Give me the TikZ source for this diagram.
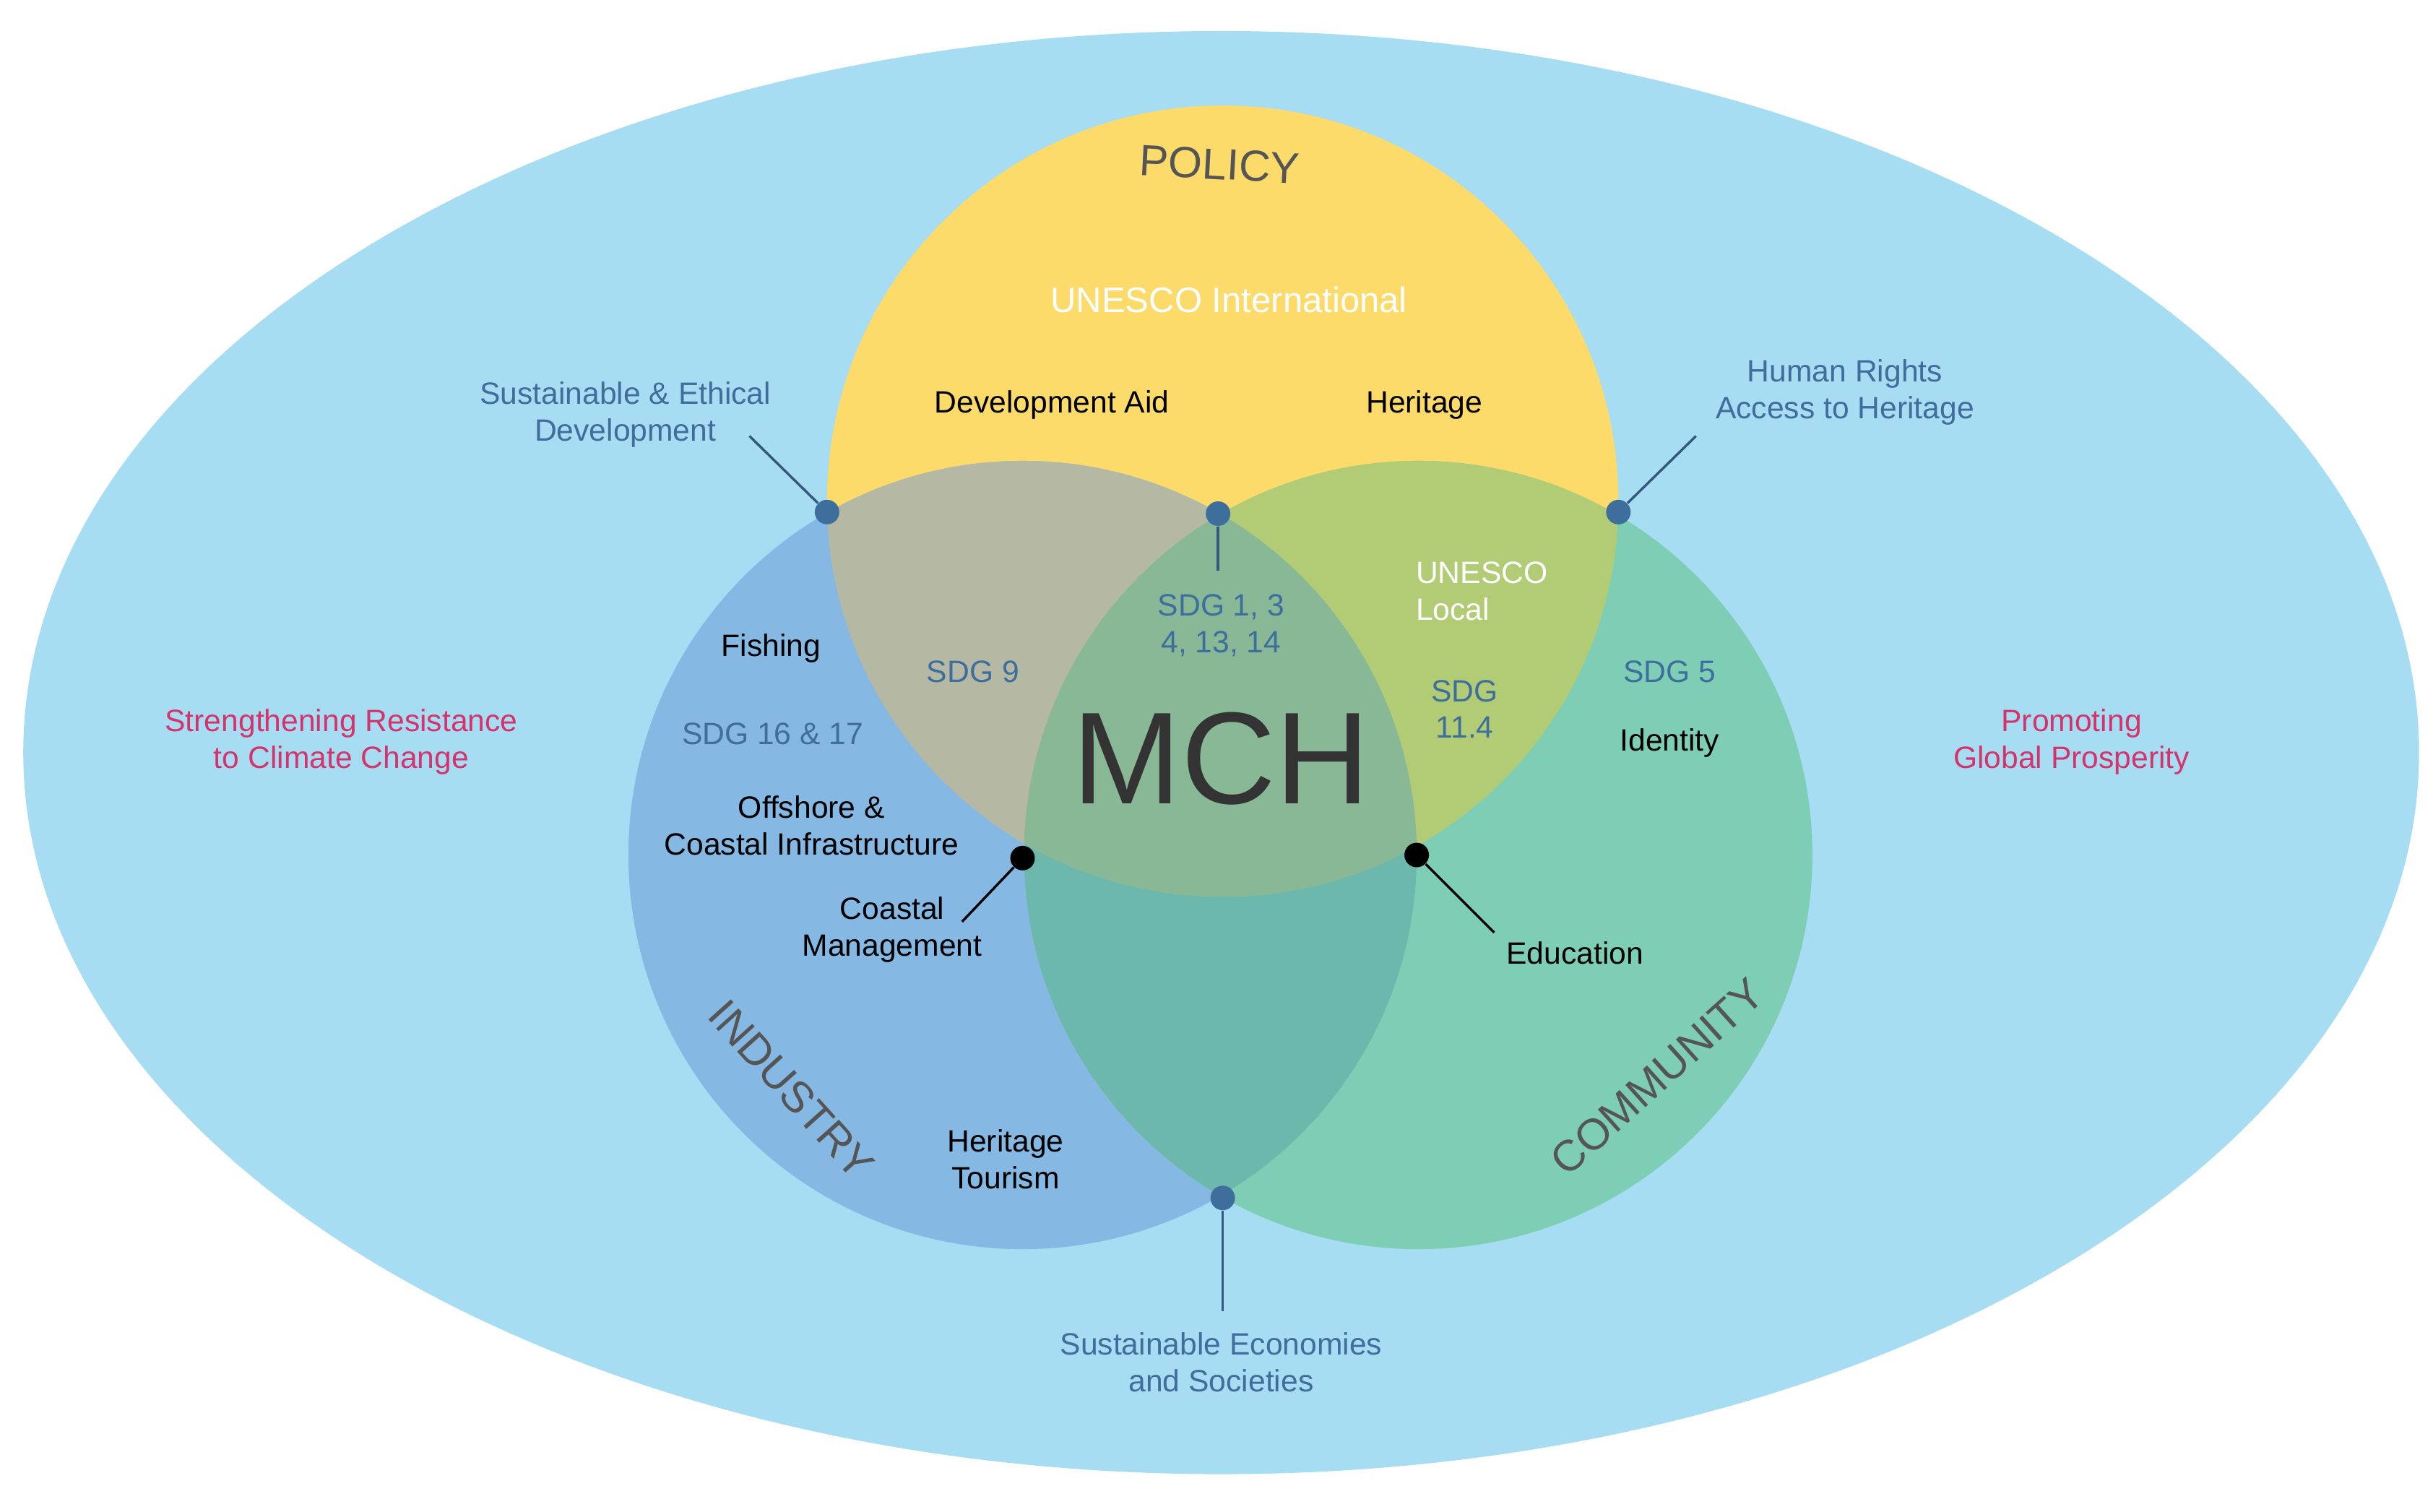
\documentclass[tikz,border=0pt]{standalone}
\usepackage{fontspec}
\setmainfont{Liberation Sans}
\usetikzlibrary{positioning}
\definecolor{skyBg}{HTML}{A6DDF2}
\definecolor{policyCol}{HTML}{FCDB6B}
\definecolor{industryCol}{HTML}{85B8E3}
\definecolor{communityCol}{HTML}{7ECDB5}
\definecolor{piCol}{HTML}{B5B9A3}
\definecolor{pcCol}{HTML}{B2CC76}
\definecolor{icCol}{HTML}{6DB8AC}
\definecolor{allCol}{HTML}{88B896}
\definecolor{noteBlue}{HTML}{3E6E9C}
\definecolor{notePink}{HTML}{D6336C}
\definecolor{titleGrey}{HTML}{555555}
\tikzset{
  lbl/.style={font=\fontsize{11.3}{13.5}\selectfont, align=center, inner sep=0pt},
  blueLbl/.style={lbl, text=noteBlue},
  pinkLbl/.style={lbl, text=notePink},
  whiteLbl/.style={lbl, text=white},
  titleLbl/.style={font=\fontsize{16}{18}\selectfont, text=titleGrey, inner sep=0pt},
  callout/.style={line width=0.9pt},
  dot/.style={circle, fill=#1, minimum size=9pt, inner sep=0pt}
}
\begin{document}
\begin{tikzpicture}[x=0.02cm, y=-0.02cm]
	\useasboundingbox (0,0) rectangle (1568,974);
	\fill[white] (0,0) rectangle (1568,974);
	\fill[skyBg] (787,485) ellipse [x radius=772, y radius=465];

	% circles
	\fill[policyCol] (788,323) circle (255);
	\fill[industryCol] (659,551) circle (254);
	\fill[communityCol] (914,551) circle (254);
	% overlaps
	\begin{scope}
		\clip (788,323) circle (255);
		\fill[piCol] (659,551) circle (254);
		\fill[pcCol] (914,551) circle (254);
	\end{scope}
	\begin{scope}
		\clip (659,551) circle (254);
		\fill[icCol] (914,551) circle (254);
		\clip (914,551) circle (254);
		\fill[allCol] (788,323) circle (255);
	\end{scope}

	% dots
	\node[dot=noteBlue] (dPI) at (533,330) {};
	\node[dot=noteBlue] (dPC) at (1043,330) {};
	\node[dot=noteBlue] (dTop) at (785,331) {};
	\node[dot=noteBlue] (dBot) at (788,772) {};
	\node[dot=black] (dL) at (659,553) {};
	\node[dot=black] (dR) at (913,551) {};
	\coordinate (cPI) at (483,281);
	\coordinate (cPC) at (1093,281);
	\coordinate (cTop) at (785,368);
	\coordinate (cBot) at (788,845);
	\coordinate (cL) at (620,594);
	\coordinate (cR) at (963,601);
	\draw[callout, noteBlue!80!black] (dPI) -- (cPI);
	\draw[callout, noteBlue!80!black] (dPC) -- (cPC);
	\draw[callout, noteBlue!80!black] (dTop) -- (cTop);
	\draw[callout, noteBlue!80!black] (dBot) -- (cBot);
	\draw[callout] (dL) -- (cL);
	\draw[callout] (dR) -- (cR);

	% titles
	\node[titleLbl, rotate=-3] (policy) at (786,106) {POLICY};
	\node[titleLbl, rotate=-48] (industry) at (510,702) {INDUSTRY};
	\node[titleLbl, rotate=42] (community) at (1068,694) {COMMUNITY};
	\node[font=\fontsize{48}{48}\selectfont, text=black!80, inner sep=0pt] (mch) at (787,489) {MCH};

	% labels
	\node[whiteLbl, font=\fontsize{13}{15}\selectfont] (unescoInt) at (792,193) {UNESCO International};
	\node[lbl] (devAid) at (678,261) {Development Aid};
	\node[lbl] (heritage) at (918,261) {Heritage};
	\node[blueLbl] (sustEth) at (403,267) {Sustainable \& Ethical\\Development};
	\node[blueLbl] (humRights) at (1189,253) {Human Rights\\Access to Heritage};
	\node[blueLbl] (sdgTop) at (787,403) {SDG 1, 3\\4, 13, 14};
	\node[whiteLbl, align=left] (unescoLoc) at (955,381) {UNESCO\\Local};
	\node[blueLbl] (sdg9) at (627,433) {SDG 9};
	\node[blueLbl] (sdg114) at (944,457) {SDG\\11.4};
	\node[blueLbl] (sdg5) at (1076,433) {SDG 5};
	\node[lbl] (fishing) at (497,418) {Fishing};
	\node[blueLbl] (sdg16) at (498,473) {SDG 16 \& 17};
	\node[lbl] (identity) at (1076,479) {Identity};
	\node[lbl] (offshore) at (523,532) {Offshore \&\\Coastal Infrastructure};
	\node[lbl] (coastMan) at (575,599) {Coastal\\Management};
	\node[lbl] (education) at (1015,614) {Education};
	\node[lbl] (herTour) at (648,747) {Heritage\\Tourism};
	\node[pinkLbl] (climate) at (220,478) {Strengthening Resistance\\to Climate Change};
	\node[pinkLbl] (prosper) at (1335,478) {Promoting\\Global Prosperity};
	\node[blueLbl] (sustEcon) at (787,878) {Sustainable Economies\\and Societies};
\end{tikzpicture}
\end{document}
